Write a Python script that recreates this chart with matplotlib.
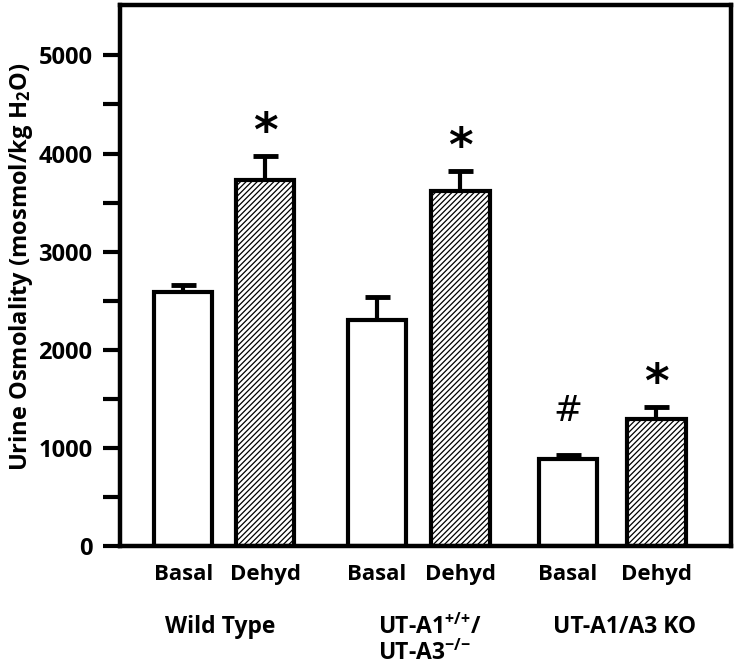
import numpy as np
import matplotlib
matplotlib.use("Agg")
import matplotlib.pyplot as plt

plt.rcParams['font.family'] = ['Open Sans', 'DejaVu Sans']
plt.rcParams['font.weight'] = 'bold'
plt.rcParams['mathtext.fontset'] = 'custom'
plt.rcParams['mathtext.rm'] = 'Open Sans:bold'
plt.rcParams['mathtext.it'] = 'Open Sans:bold'
plt.rcParams['mathtext.bf'] = 'Open Sans:bold'
plt.rcParams['hatch.linewidth'] = 0.9

# data
conditions = ["Basal", "Dehyd", "Basal", "Dehyd", "Basal", "Dehyd"]
groups = ["Wild Type", "UT-A1$^{+/{+}}$/\nUT-A3$^{-/{-}}$", "UT-A1/A3 KO"]
means = [2590, 3735, 2305, 3620, 885, 1300]
sem = [75, 240, 230, 200, 40, 115]
marks = ["", "*", "", "*", "#", "*"]
hatched = [False, True, False, True, False, True]

xpos = [0.77, 1.77, 3.13, 4.15, 5.46, 6.54]
group_x = [1.22, 3.78, 6.15]

dpi = 100
fig = plt.figure(figsize=(737 / dpi, 666 / dpi), dpi=dpi)
ax = fig.add_axes([0.163, 0.180, 0.829, 0.812])

for x, m, s, h in zip(xpos, means, sem, hatched):
    ax.bar(x, m, width=0.71, color='white', edgecolor='black', linewidth=3,
           hatch='//////' if h else None, zorder=2)
    ax.errorbar(x, m, yerr=[[0], [s]], fmt='none', ecolor='black',
                elinewidth=3, capsize=9, capthick=3.5, zorder=1)

for x, m, s, mk in zip(xpos, means, sem, marks):
    if mk == "*":
        ax.text(x, m + s + 230, mk, ha='center', va='center', fontsize=34,
                family='DejaVu Sans', fontweight='bold')
    elif mk == "#":
        ax.text(x, m + s + 450, mk, ha='center', va='center', fontsize=25,
                family='DejaVu Sans', fontweight='normal')

ax.set_xlim(0, 7.45)
ax.set_ylim(0, 5510)
ax.set_yticks(np.arange(0, 5001, 1000))
ax.set_yticks(np.arange(500, 5001, 1000), minor=True)
ax.tick_params(axis='y', which='both', length=12, width=3, direction='out',
               labelsize=17, pad=8)
ax.set_xticks(xpos)
ax.set_xticklabels(conditions, fontsize=16)
ax.tick_params(axis='x', length=0, pad=13)

for sp in ax.spines.values():
    sp.set_linewidth(3.2)

for gx, g in zip(group_x, groups):
    ax.text(gx, -0.127, g, transform=ax.get_xaxis_transform(), ha='center',
            va='top', fontsize=16.5, linespacing=1.05, multialignment='left')

ax.set_ylabel("Urine Osmolality (mosmol/kg H$_2$O)", fontsize=17,
              fontweight='bold')
ax.yaxis.set_label_coords(-0.14, 0.516)

fig.savefig("out.png", dpi=dpi)
